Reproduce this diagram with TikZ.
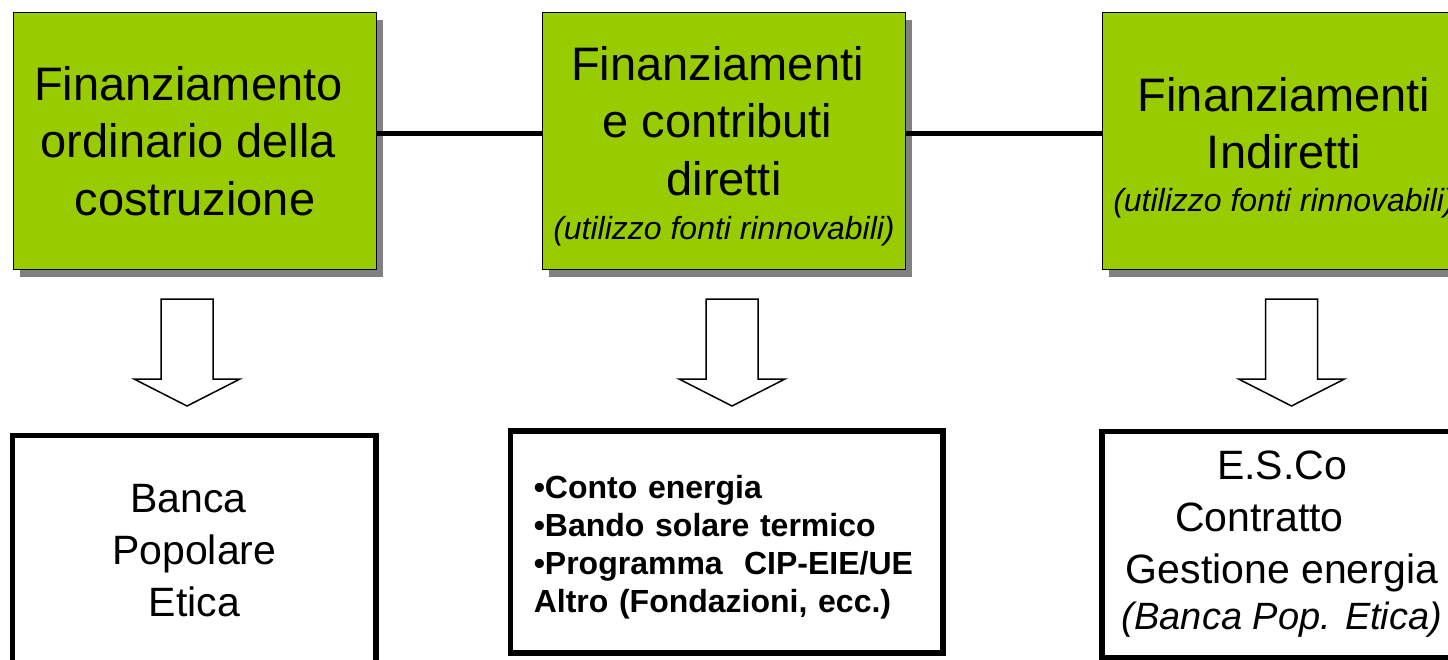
\documentclass[tikz,border=0pt]{standalone}
\usepackage{fontspec}
\setmainfont{Liberation Sans}
\usepackage{tikz}
\usetikzlibrary{shadows}
\usepackage{xcolor}

\definecolor{boxgreen}{HTML}{99CC00}
\definecolor{shadowgray}{HTML}{808080}

\tikzset{
    topbox/.style={draw=black, line width=1.5pt, fill=boxgreen,
        minimum width=363pt, minimum height=257pt, inner sep=0pt,
        align=center, font=\fontsize{47}{57.5}\selectfont,
        drop shadow={shadow xshift=6pt, shadow yshift=-7pt, fill=shadowgray, opacity=1}},
    bottombox/.style={draw=black, line width=5.5pt, fill=white, inner sep=0pt,
        align=center, font=\fontsize{41}{52}\selectfont},
    downarrow/.style={draw=black, line width=1.5pt, fill=white, line join=miter}
}

\begin{document}
\begin{tikzpicture}[x=1pt, y=-1pt]
        % Page frame
        \useasboundingbox (0,0) rectangle (1448,659);
        \clip (0,0) rectangle (1448,659);

        % Green boxes on top (struts and blank rules keep the lines where the slide has them)
        \node[topbox] (ordinario) at (195,141)
            {Finanziamento\rule{0.28em}{0pt}\\ordinario della\rule{0.28em}{0pt}\\costruzione};
        \node[topbox] (diretti) at (724,141)
            {\rule{0pt}{45pt}Finanziamenti\rule{0.28em}{0pt}\\e contributi\rule{0.28em}{0pt}\\diretti\\[-13pt]{\fontsize{32}{40}\itshape (utilizzo fonti rinnovabili)}};
        \node[topbox] (indiretti) at (1284,141)
            {\rule{0pt}{47pt}Finanziamenti\\Indiretti\\[-15pt]{\fontsize{32}{40}\itshape (utilizzo fonti rinnovabili)}};

        % Links between the green boxes
        \draw[line width=5pt] ([yshift=7.5pt]ordinario.east) -- ([yshift=7.5pt]diretti.west);
        \draw[line width=5pt] ([yshift=7.5pt]diretti.east) -- ([yshift=7.5pt]indiretti.west);

        % Block arrows pointing down
        \foreach \cx in {187,732,1291.5}
            \draw[downarrow] (\cx-26,299) -- (\cx+26,299) -- (\cx+26,379) -- (\cx+53,379)
                -- (\cx,406) -- (\cx-53,379) -- (\cx-26,379) -- cycle;

        % White boxes at the bottom
        \node[bottombox, minimum width=363.5pt, minimum height=231pt] (banca) at (194.25,551)
            {Banca\rule{0.28em}{0pt}\\Popolare\\Etica};
        \node[bottombox, minimum width=432.5pt, minimum height=222pt, text width=386pt,
              align=left, font=\bfseries\fontsize{32}{38}\selectfont] (contributi) at (726.75,542)
            {\rule{0pt}{33pt}•Conto energia\\•Bando solare termico\\•Programma\ \ CIP-EIE/UE\\Altro (Fondazioni, ecc.)};
        \node[bottombox, minimum width=360pt, minimum height=226pt] (esco) at (1282,544.5)
            {E.S.Co\\Contratto\rule{1.1em}{0pt}\\Gestione energia\\[-6pt]{\fontsize{38}{44}\itshape (Banca Pop. Etica)}};

    \end{tikzpicture}
\end{document}
